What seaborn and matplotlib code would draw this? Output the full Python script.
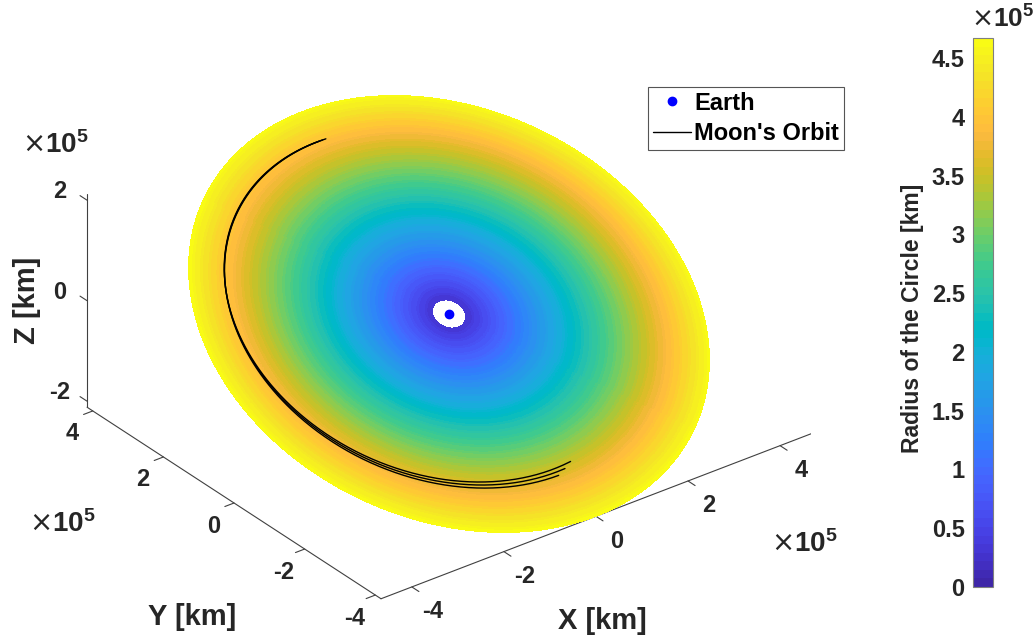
import numpy as np
import matplotlib
matplotlib.use("Agg")
import matplotlib.pyplot as plt
import seaborn as sns
from matplotlib.colors import ListedColormap, Normalize
from matplotlib.cm import ScalarMappable
from matplotlib.lines import Line2D

sns.set_theme(style="white")
plt.rcParams["font.family"] = ["Liberation Sans", "DejaVu Sans"]
plt.rcParams["font.weight"] = "bold"
plt.rcParams["axes.labelweight"] = "bold"
plt.rcParams["mathtext.fontset"] = "custom"
plt.rcParams["mathtext.rm"] = "DejaVu Sans:normal"
plt.rcParams["mathtext.bf"] = "Liberation Sans:bold"

# ---------------------------------------------------------------- data
disk_inner_radius_km = 0.30e5
disk_outer_radius_km = 4.67e5
plane_inclination_deg = 27.0
earth_position_km = [0.0, 0.0, 0.0]

# three lunar revolutions (angles measured in the plane of the disk)
orbit_eccentricity = [0.076, 0.064, 0.052]
orbit_semi_major_km = [3.7745e5, 3.8105e5, 3.8475e5]
orbit_perigee_deg = 300.0
orbit_start_deg = [91.0, 90.0, 89.0]
orbit_end_deg = [274.0, 271.0, 268.0]

xy_ticks_km = [-4e5, -2e5, 0.0, 2e5, 4e5]
z_ticks_km = [-2e5, 0.0, 2e5]
cbar_ticks_km = [0.0, 0.5e5, 1.0e5, 1.5e5, 2.0e5, 2.5e5, 3.0e5, 3.5e5, 4.0e5, 4.5e5]

legend_labels = ["Earth", "Moon's Orbit"]
cbar_label = "Radius of the Circle [km]"
axis_labels = ["X [km]", "Y [km]", "Z [km]"]

# MATLAB parula colormap (64 entries)
PARULA = [
    [0.2422, 0.1504, 0.6603], [0.2504, 0.1650, 0.7076], [0.2578, 0.1818, 0.7511],
    [0.2647, 0.1978, 0.7952], [0.2706, 0.2147, 0.8364], [0.2751, 0.2342, 0.8710],
    [0.2783, 0.2559, 0.8991], [0.2803, 0.2782, 0.9221], [0.2813, 0.3006, 0.9414],
    [0.2810, 0.3228, 0.9579], [0.2795, 0.3447, 0.9717], [0.2760, 0.3667, 0.9829],
    [0.2699, 0.3892, 0.9906], [0.2602, 0.4123, 0.9952], [0.2440, 0.4358, 0.9988],
    [0.2206, 0.4603, 0.9973], [0.1963, 0.4847, 0.9892], [0.1834, 0.5074, 0.9798],
    [0.1786, 0.5289, 0.9682], [0.1764, 0.5499, 0.9520], [0.1687, 0.5703, 0.9359],
    [0.1540, 0.5902, 0.9218], [0.1460, 0.6091, 0.9079], [0.1380, 0.6276, 0.8973],
    [0.1248, 0.6459, 0.8883], [0.1113, 0.6635, 0.8763], [0.0952, 0.6798, 0.8598],
    [0.0689, 0.6948, 0.8394], [0.0297, 0.7082, 0.8163], [0.0036, 0.7203, 0.7917],
    [0.0067, 0.7312, 0.7660], [0.0433, 0.7411, 0.7394], [0.0964, 0.7500, 0.7120],
    [0.1408, 0.7584, 0.6842], [0.1717, 0.7670, 0.6554], [0.1938, 0.7758, 0.6251],
    [0.2161, 0.7843, 0.5923], [0.2470, 0.7918, 0.5567], [0.2906, 0.7973, 0.5188],
    [0.3406, 0.8008, 0.4789], [0.3909, 0.8029, 0.4354], [0.4456, 0.8024, 0.3909],
    [0.5044, 0.7993, 0.3480], [0.5616, 0.7942, 0.3045], [0.6174, 0.7876, 0.2612],
    [0.6720, 0.7793, 0.2227], [0.7242, 0.7698, 0.1910], [0.7738, 0.7598, 0.1646],
    [0.8203, 0.7498, 0.1535], [0.8634, 0.7406, 0.1596], [0.9035, 0.7330, 0.1774],
    [0.9393, 0.7288, 0.2100], [0.9728, 0.7298, 0.2394], [0.9956, 0.7434, 0.2371],
    [0.9970, 0.7659, 0.2199], [0.9952, 0.7893, 0.2028], [0.9892, 0.8136, 0.1885],
    [0.9786, 0.8386, 0.1766], [0.9676, 0.8639, 0.1643], [0.9610, 0.8890, 0.1537],
    [0.9597, 0.9135, 0.1423], [0.9628, 0.9373, 0.1265], [0.9691, 0.9606, 0.1064],
    [0.9769, 0.9839, 0.0805],
]
parula = ListedColormap(PARULA, name="parula")

TXT = "#262626"
AXC = "#404040"
W_PX, H_PX = 1036, 640

# ---------------------------------------------------------------- figure
fig = plt.figure(figsize=(W_PX / 100, H_PX / 100), dpi=100)
ax = fig.add_axes([0, 0, 1, 1], projection="3d", computed_zorder=False)
ax.set_proj_type("ortho")
ax.view_init(elev=30, azim=-127.5)

inc = np.deg2rad(plane_inclination_deg)
xmax = disk_outer_radius_km
ymax = disk_outer_radius_km * np.cos(inc)
zmax = disk_outer_radius_km * np.sin(inc)
x0, x1 = -xmax, xmax
y0, y1 = -ymax, ymax
z0, z1 = -zmax, zmax
ax.set_xlim(x0, x1)
ax.set_ylim(y0, y1)
ax.set_zlim(z0, z1)
ax.set_box_aspect((x1 - x0, y1 - y0, z1 - z0))
ax.set_axis_off()

# colour-coded disk in the orbital plane
norm = Normalize(vmin=0.0, vmax=disk_outer_radius_km)
rr = np.linspace(disk_inner_radius_km, disk_outer_radius_km, 90)
tt = np.linspace(0.0, 2 * np.pi, 361)
R, T = np.meshgrid(rr, tt)
X = R * np.cos(T)
Y = R * np.sin(T) * np.cos(inc)
Z = R * np.sin(T) * np.sin(inc)
ax.plot_surface(X, Y, Z, facecolors=parula(norm(R)), rstride=1, cstride=1,
                linewidth=0, antialiased=False, shade=False, zorder=1)

# Moon's orbit: visible arcs of each revolution
for e, a, t_s, t_e in zip(orbit_eccentricity, orbit_semi_major_km,
                          orbit_start_deg, orbit_end_deg):
    th = np.deg2rad(np.linspace(t_s, t_e, 400))
    r = a * (1 - e ** 2) / (1 + e * np.cos(th - np.deg2rad(orbit_perigee_deg)))
    ax.plot(r * np.cos(th), r * np.sin(th) * np.cos(inc), r * np.sin(th) * np.sin(inc),
            color="black", lw=1.0, zorder=5)

# Earth
ax.plot([earth_position_km[0]], [earth_position_km[1]], [earth_position_km[2]],
        "o", color="blue", ms=6, zorder=6)

# axis lines, ticks and tick labels
tick_len = 0.2e5
line_kw = dict(color=AXC, lw=0.8, zorder=0.5)
ax.plot([x0, x1], [y0, y0], [z0, z0], **line_kw)
ax.plot([x0, x0], [y0, y1], [z0, z0], **line_kw)
ax.plot([x0, x0], [y1, y1], [z0, z1], **line_kw)
tick_font = dict(fontsize=17, fontweight="bold", color=TXT, ha="center", va="center", zorder=10)
for v in xy_ticks_km:
    ax.plot([v, v], [y0, y0 - tick_len], [z0, z0], **line_kw)
    ax.text(v, y0 - 0.6e5, z0 - 0.22e5, f"{v / 1e5:g}", **tick_font)
for v in xy_ticks_km:
    ax.plot([x0, x0 - tick_len], [v, v], [z0, z0], **line_kw)
    ax.text(x0 - 0.45e5, v, z0 - 0.3e5, f"{v / 1e5:g}", **tick_font)
for v in z_ticks_km:
    ax.plot([x0, x0], [y1, y1 + tick_len], [v, v], **line_kw)
    ax.text(x0 - 0.25e5, y1 + 0.45e5, v + 0.05e5, f"{v / 1e5:g}", **tick_font)

# place the 3-D box: origin at the chosen pixel, 1e5 km along x ~49 px on screen
target = np.array([449.0, H_PX - 314.0])
target_unit = 49.3
side, centre = 760.0, target.copy()
for _ in range(2):
    ax.set_position([(centre[0] - side / 2) / W_PX, (centre[1] - side / 2) / H_PX,
                     side / W_PX, side / H_PX])
    fig.canvas.draw()
    M = ax.get_proj()
    P = M @ np.array([[0.0, 1e5], [0.0, 0.0], [0.0, 0.0], [1.0, 1.0]])
    pts = ax.transData.transform(np.column_stack([P[0] / P[3], P[1] / P[3]]))
    unit = np.hypot(*(pts[1] - pts[0]))
    centre = centre + (target - pts[0])
    side *= target_unit / unit
ax.set_position([(centre[0] - side / 2) / W_PX, (centre[1] - side / 2) / H_PX,
                 side / W_PX, side / H_PX])

# axis titles and exponent labels
def ftext(x, y, s, **kw):
    fig.text(x / W_PX, 1 - y / H_PX, s, color=TXT, fontweight="bold", **kw)

ftext(602, 621, axis_labels[0], fontsize=21, ha="center", va="center")
ftext(192, 617, axis_labels[1], fontsize=21, ha="center", va="center")
ftext(27, 300, axis_labels[2], fontsize=21, ha="center", va="center", rotation=90)
exp_label = r"$\times\mathbf{10^{5}}$"
ftext(55, 145, exp_label, fontsize=20, ha="center", va="center")
ftext(62, 524, exp_label, fontsize=20, ha="center", va="center")
ftext(804, 544, exp_label, fontsize=20, ha="center", va="center")

# colour bar
cax = fig.add_axes([973 / W_PX, 1 - 587 / H_PX, 20 / W_PX, 549 / H_PX])
sm = ScalarMappable(norm=norm, cmap=parula)
cb = fig.colorbar(sm, cax=cax, ticks=cbar_ticks_km)
cb.outline.set_edgecolor("#7f7f7f")
cb.outline.set_linewidth(0.8)
cax.yaxis.set_ticks_position("left")
cax.set_yticklabels([f"{v / 1e5:g}" for v in cbar_ticks_km])
cax.tick_params(axis="y", direction="in", length=5, width=0.7, color=AXC,
                labelsize=17, labelcolor=TXT, pad=6)
for lab in cax.get_yticklabels():
    lab.set_fontweight("bold")
ftext(913, 318, cbar_label, fontsize=16.5, ha="center", va="center", rotation=90)
ftext(1003, 19, exp_label, fontsize=19, ha="center", va="center")

# legend
handles = [Line2D([], [], marker="o", ls="none", color="blue", ms=6),
           Line2D([], [], color="black", lw=1.0)]
leg = fig.legend(handles, legend_labels, loc="upper left",
                 bbox_to_anchor=(648 / W_PX, 1 - 87 / H_PX), borderaxespad=0,
                 frameon=True, fancybox=False, framealpha=1, edgecolor="#555555",
                 prop=dict(size=17, weight="bold"), handlelength=1.6,
                 handletextpad=0.15, borderpad=0.2, labelspacing=0.32)
leg.get_frame().set_linewidth(0.8)
for t in leg.get_texts():
    t.set_color("black")

fig.savefig("out.png", dpi=100)
